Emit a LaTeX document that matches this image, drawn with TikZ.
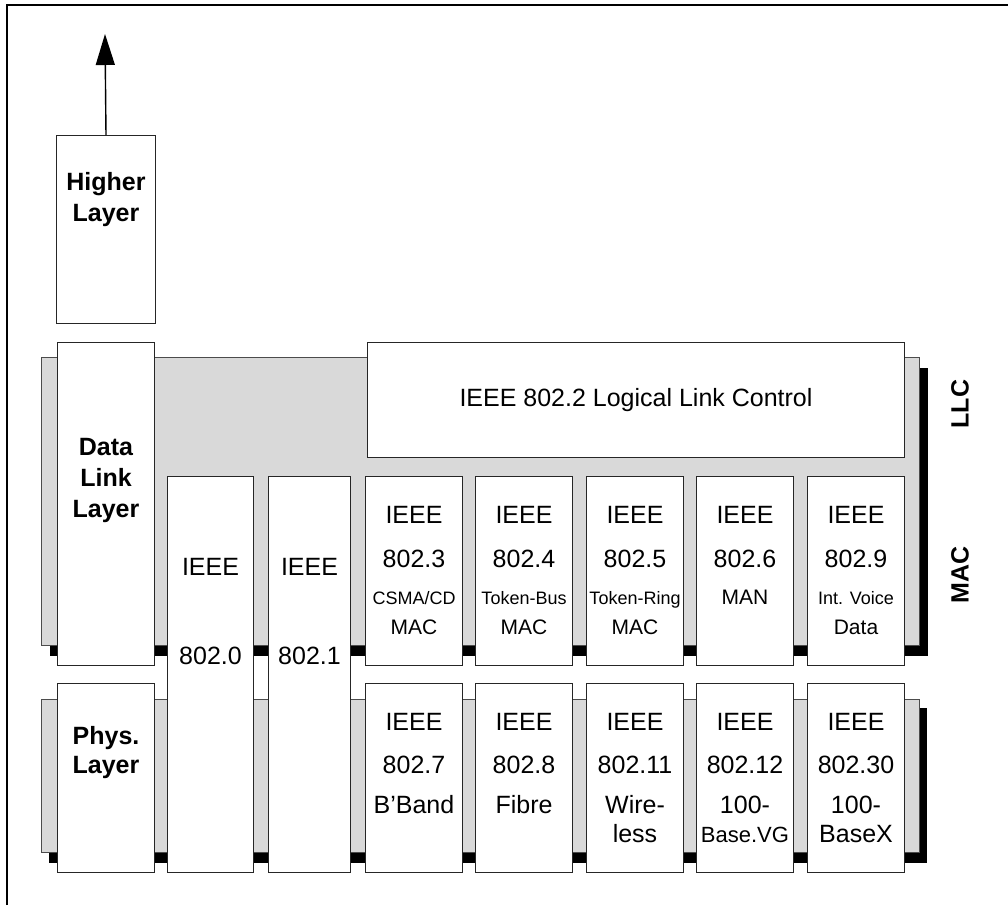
\documentclass[tikz,border=0pt]{standalone}
\usepackage{fontspec}
\setmainfont{Liberation Sans}
\usetikzlibrary{arrows.meta, positioning}

\newcommand\bigfnt{\fontsize{25}{31}\selectfont}
\newcommand\midfnt{\fontsize{21}{21}\selectfont}
\newcommand\smlfnt{\fontsize{18}{18}\selectfont}

\tikzset{
  layer/.style={draw=black!85, line width=1pt, fill=white, anchor=north west,
    inner sep=0pt, minimum width=97pt},
  txt/.style={font=\bigfnt, inner sep=0pt, anchor=base},
  lname/.style={font=\bigfnt\bfseries, inner sep=0pt, anchor=north, align=center},
  shade/.style={draw=black!70, line width=0.6pt, fill=black!15},
  shadow/.style={fill=black}
}

\begin{document}
\begin{tikzpicture}[x=1pt, y=-1pt, >={Triangle[length=31pt,width=19pt]}]
  \useasboundingbox (0,0) rectangle (1008,905);
  % frame
  \draw[line width=2.5pt] (7,905) -- (7,5) -- (1008,5);

  % shaded layer bands
  \fill[shadow] (50,368) rectangle (928,656);
  \filldraw[shade] (41,357) rectangle (919,645);
  \fill[shadow] (49,708) rectangle (927,863);
  \filldraw[shade] (41,699) rectangle (919,852);

  % layer names
  \node[layer, minimum width=99pt, minimum height=188pt] (higher) at (56,135) {};
  \node[lname] (highertxt) at ([yshift=-37pt]higher.north) {Higher\\Layer};
  \coordinate (up) at (105,34);
  \draw[->, line width=1.4pt] (higher.north) -- (up);

  \node[layer, minimum height=323pt] (dll) at (57,342) {};
  \node[lname] (dlltxt) at ([yshift=-96pt]dll.north) {Data\\Link\\Layer};

  \node[layer, minimum height=189pt] (phys) at (57,683) {};
  \node[lname, font=\fontsize{25}{29}\selectfont\bfseries] (phystxt) at ([yshift=-43pt]phys.north) {Phys.\\Layer};

  % LLC
  \node[layer, minimum width=537pt, minimum height=115pt, font=\bigfnt] (llc) at (367,342)
    {IEEE 802.2 Logical Link Control};

  % 802.0 and 802.1 span both layers
  \node[layer, minimum width=86pt, minimum height=396pt] (ieee0) at (167,476) {};
  \node[layer, minimum width=82pt, minimum height=396pt] (ieee1) at (268,476) {};
  \foreach \nm in {0,1} {
    \node[txt] (ieee\nm-a) at ([yshift=-99pt]ieee\nm.north) {IEEE};
    \node[txt] (ieee\nm-b) at ([yshift=-188pt]ieee\nm.north) {802.\nm};
  }

  % MAC boxes
  \foreach \nm/\x/\lc/\ld in {3/365/{\smlfnt CSMA/CD}/MAC, 4/475/{\smlfnt Token-Bus}/MAC,
      5/586/{\smlfnt Token-Ring}/MAC, 6/696/{\midfnt MAN}/{}, 9/807/{\smlfnt Int. Voice}/Data} {
    \node[layer, minimum height=189pt] (mac\nm) at (\x,476) {};
    \node[txt] (mac\nm-a) at ([yshift=-47pt]mac\nm.north) {IEEE};
    \node[txt] (mac\nm-b) at ([yshift=-91pt]mac\nm.north) {802.\nm};
    \node[txt] (mac\nm-c) at ([yshift=-128pt]mac\nm.north) {\lc};
    \node[txt, font=\midfnt] (mac\nm-d) at ([yshift=-158pt]mac\nm.north) {\ld};
  }

  % physical boxes
  \foreach \nm/\x/\lc/\ld in {7/365/B'Band/{}, 8/475/Fibre/{}, 11/586/Wire-/less,
      12/696/100-/{\fontsize{22}{22}\selectfont Base.VG}, 30/807/100-/BaseX} {
    \node[layer, minimum height=189pt] (phy\nm) at (\x,683) {};
    \node[txt] (phy\nm-a) at ([yshift=-47pt]phy\nm.north) {IEEE};
    \node[txt] (phy\nm-b) at ([yshift=-90pt]phy\nm.north) {802.\nm};
    \node[txt] (phy\nm-c) at ([yshift=-130pt]phy\nm.north) {\lc};
    \node[txt] (phy\nm-d) at ([yshift=-159pt]phy\nm.north) {\ld};
  }

  % sublayer labels
  \node[font=\bigfnt\bfseries, rotate=90] (llclbl) at (960,404) {LLC};
  \node[font=\bigfnt\bfseries, rotate=90] (maclbl) at (960,575) {MAC};
\end{tikzpicture}
\end{document}
